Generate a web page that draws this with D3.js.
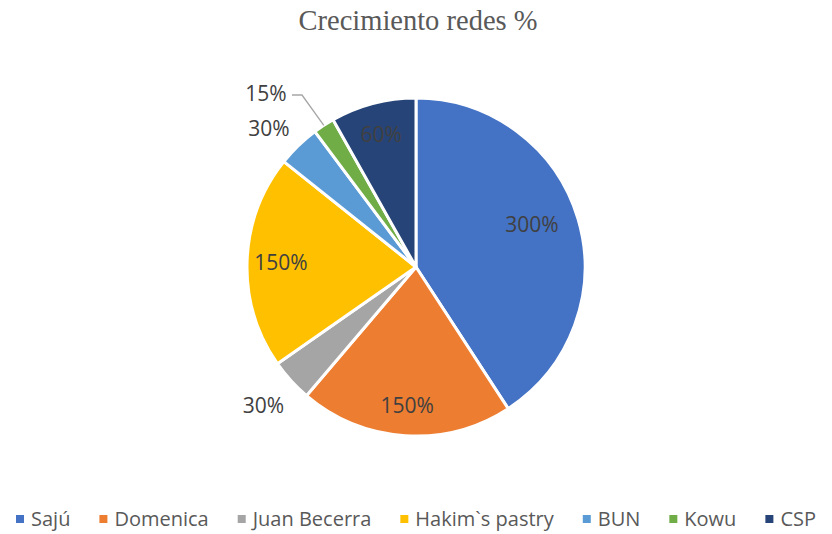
<!DOCTYPE html>
<html>
<head>
<meta charset="utf-8">
<script src="https://cdn.jsdelivr.net/npm/d3@7"></script>
<style>
  body { margin: 0; background: #fff; }
  svg { display: block; }
</style>
</head>
<body>
<div id="chart"></div>
<script>
// data
const categories = ["Sajú", "Domenica", "Juan Becerra", "Hakim`s pastry", "BUN", "Kowu", "CSP"];
const values = [300, 150, 30, 150, 30, 15, 60];
const colors = ["#4472C4", "#ED7D31", "#A5A5A5", "#FFC000", "#5B9BD5", "#70AD47", "#264478"];
const title = "Crecimiento redes %";

const width = 832, height = 534;
const cx = 416, cy = 267, radius = 169;

// where each label sits, as a fraction of the radius (Excel "best fit")
const labelPos = {
  "Sajú": 0.73, "Domenica": 0.82, "Juan Becerra": 1.22, "Hakim`s pastry": 0.8,
  "BUN": 1.2, "Kowu": 1.36, "CSP": 0.81,
};

const svg = d3.select("#chart")
  .append("svg")
  .attr("width", width)
  .attr("height", height)
  .attr("viewBox", [0, 0, width, height]);

// title
svg.append("text")
  .attr("x", cx + 2)
  .attr("y", 30)
  .attr("text-anchor", "middle")
  .attr("fill", "#595959")
  .attr("font-family", "'Liberation Serif', 'Times New Roman', serif")
  .attr("font-size", 28.5)
  .text(title);

const color = d3.scaleOrdinal().domain(categories).range(colors);

const pie = d3.pie()
  .value((d, i) => values[i])
  .sort(null);
const arcs = pie(categories);

const arc = d3.arc().innerRadius(0).outerRadius(radius);

const g = svg.append("g").attr("transform", `translate(${cx},${cy})`);

g.selectAll("path")
  .data(arcs)
  .join("path")
  .attr("d", arc)
  .attr("fill", (d) => color(d.data))
  .attr("stroke", "#fff")
  .attr("stroke-width", 3)
  .attr("stroke-linejoin", "round");

// labels
const labelPoint = (d) => {
  const a = (d.startAngle + d.endAngle) / 2 - (d.data === "Sajú" ? 0.06 : 0);
  const r = radius * labelPos[d.data];
  const p = [Math.sin(a) * r, -Math.cos(a) * r];
  if (d.data === "BUN") { p[0] -= 6; p[1] += 7; }
  return p;
};

// leader line for the Kowu slice
const kowu = arcs.find((d) => d.data === "Kowu");
{
  const a = (kowu.startAngle + kowu.endAngle) / 2;
  const p0 = [Math.sin(a) * radius, -Math.cos(a) * radius];
  svg.append("polyline")
    .attr("transform", `translate(${cx},${cy})`)
    .attr("points", [[p0[0], p0[1]], [-114, -172], [-124, -172]].map((p) => p.join(",")).join(" "))
    .attr("fill", "none")
    .attr("stroke", "#A6A6A6")
    .attr("stroke-width", 1.3);
}

g.selectAll("text.lbl")
  .data(arcs)
  .join("text")
  .attr("class", "lbl")
  .attr("transform", (d) => {
    if (d.data === "Kowu") return "translate(-150,-174)";
    return `translate(${labelPoint(d)})`;
  })
  .attr("text-anchor", "middle")
  .attr("dy", "0.36em")
  .attr("fill", "#404040")
  .attr("font-family", "'Open Sans', sans-serif")
  .attr("font-size", 21)
  .text((d) => d.value + "%");

// legend
const legend = svg.append("g")
  .attr("font-family", "'Open Sans', sans-serif")
  .attr("font-size", 20)
  .attr("fill", "#595959");

const items = legend.selectAll("g")
  .data(categories)
  .join("g");

items.append("rect")
  .attr("width", 8)
  .attr("height", 8)
  .attr("y", -11)
  .attr("fill", (d) => color(d));

items.append("text")
  .attr("x", 15)
  .text((d) => d);

let x = 0;
const gap = 29;
items.each(function () {
  const w = 15 + d3.select(this).select("text").node().getComputedTextLength();
  d3.select(this).attr("transform", `translate(${x},526)`);
  x += w + gap;
});
const total = x - gap;
legend.attr("transform", `translate(${(width - total) / 2},0)`);
</script>
</body>
</html>
